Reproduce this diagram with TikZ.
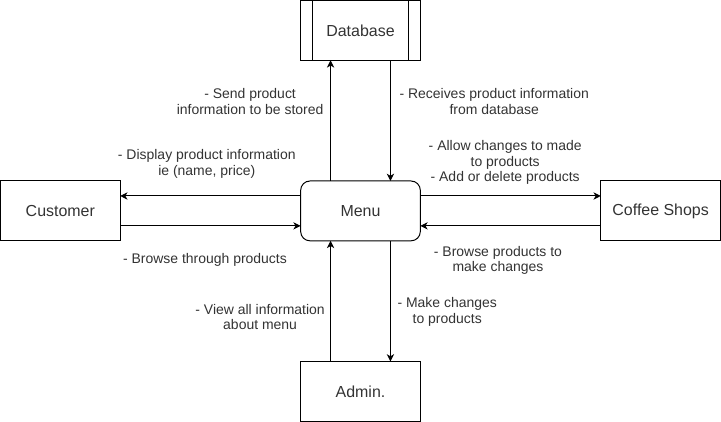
\documentclass[tikz,border=0pt]{standalone}
\usepackage{fontspec}
\setmainfont{Liberation Sans}
\usepackage{tikz}
\usetikzlibrary{matrix,arrows.meta}
\tikzset{
  boxnode/.style={draw, rectangle, line width=0.75pt, minimum width=90pt, minimum height=45pt,
    inner sep=0pt, anchor=center, text=black!80, font=\fontsize{12}{14}\selectfont},
  procbox/.style={path picture={
      \draw[line width=0.75pt] ([xshift=9pt]path picture bounding box.north west) -- ([xshift=9pt]path picture bounding box.south west);
      \draw[line width=0.75pt] ([xshift=-9pt]path picture bounding box.north east) -- ([xshift=-9pt]path picture bounding box.south east);}},
  menubox/.style={rounded corners=7pt},
  lbl/.style={align=center, inner sep=0pt, text=black!80, font=\fontsize{10.5}{11.7}\selectfont}
}
\begin{document}
\begin{tikzpicture}[>={Stealth[length=5.5pt, width=5.5pt, inset=1.6pt]}, line width=0.75pt]
			\matrix (m) [matrix of nodes, inner sep=0pt, outer sep=0pt, row sep=90pt, column sep=135pt, nodes={boxnode}]
			{
				& |[procbox]| Database & \\
				Customer & |[menubox]| Menu & Coffee Shops \\
				& Admin. & \\
			};
			\path[->]
			([xshift=-22.5pt]m-2-2.north) edge node[lbl, left=5pt, pos=.66]{- Send product\\information to be stored} ([xshift=-22.5pt]m-1-2.south)
			([xshift=22.5pt]m-1-2.south) edge node[lbl, right=6.5pt, pos=.34]{- Receives product information\\from database} ([xshift=22.5pt]m-2-2.north)
			([yshift=11.25pt]m-2-2.west) edge node[lbl, above=13pt, pos=.52]{- Display product information\\ie (name, price)} ([yshift=11.25pt]m-2-1.east)
			([yshift=-11.25pt]m-2-1.east) edge node[lbl, below=20pt, pos=.47]{- Browse through products} ([yshift=-11.25pt]m-2-2.west)
			([yshift=11.25pt]m-2-2.east) edge node[lbl, above=8pt, pos=.47]{- Allow changes to made\\to products\\- Add or delete products} ([yshift=11.25pt]m-2-3.west)
			([yshift=-11.25pt]m-2-3.west) edge node[lbl, below=15pt, pos=.57]{- Browse products to\\make changes} ([yshift=-11.25pt]m-2-2.east)
			([xshift=-22.5pt]m-3-2.north) edge node[lbl, left=4pt, pos=.37]{- View all information\\about menu} ([xshift=-22.5pt]m-2-2.south)
			([xshift=22.5pt]m-2-2.south) edge node[lbl, right=5pt, pos=.59]{- Make changes\\to products} ([xshift=22.5pt]m-3-2.north);
		\end{tikzpicture}
\end{document}
